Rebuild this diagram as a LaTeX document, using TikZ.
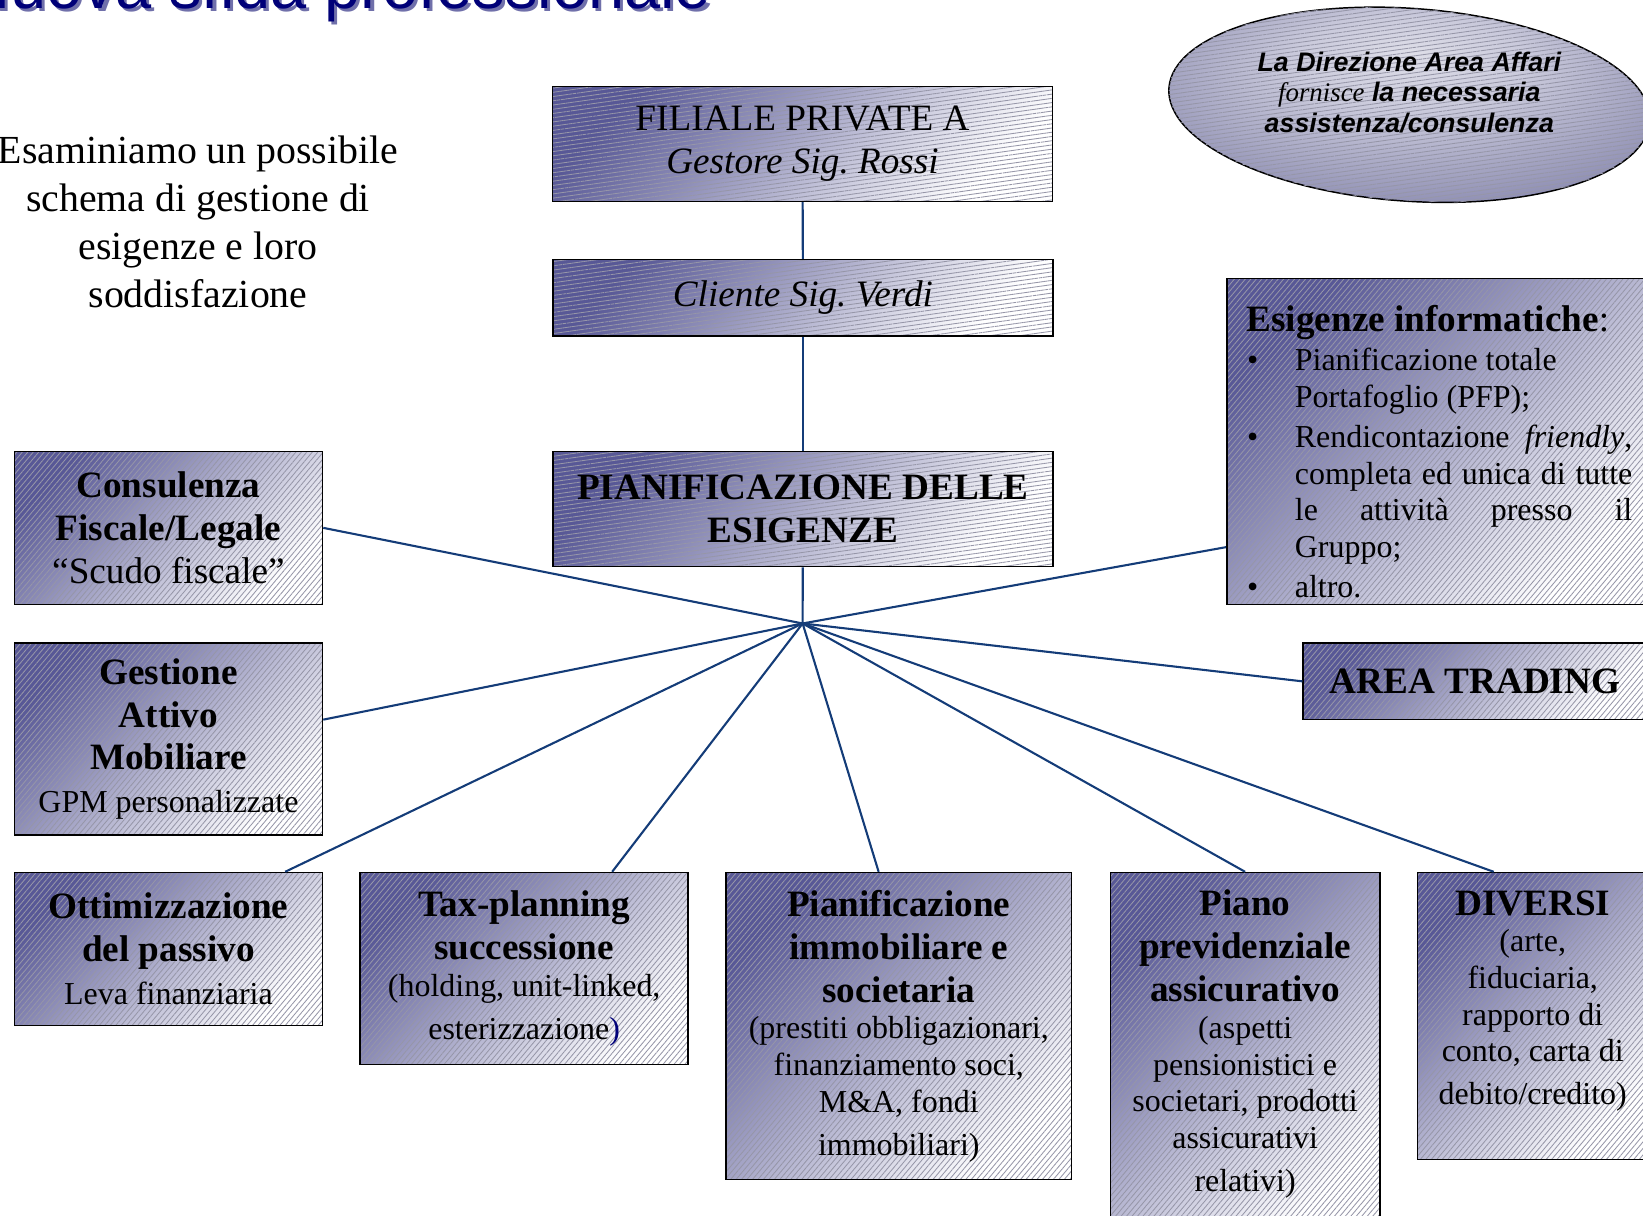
\documentclass[tikz,border=0pt]{standalone}
\usepackage{fontspec}
\setmainfont{Liberation Serif}
\newfontfamily\arialfont{Liberation Sans}
\usetikzlibrary{positioning, calc, shapes.geometric, patterns.meta}
\definecolor{boxdark}{RGB}{88,88,150}
\definecolor{hatch}{RGB}{150,150,168}
\definecolor{linkblue}{RGB}{20,60,120}
\definecolor{titblue}{RGB}{0,0,120}
\definecolor{titshadow}{RGB}{112,112,170}
\newcommand{\bigtxt}{\fontsize{17.75pt}{20.5pt}\selectfont}
\newcommand{\smalltxt}{\fontsize{15.25pt}{17.5pt}\selectfont}
\pgfdeclareradialshading{ellshade}{\pgfpoint{0bp}{12bp}}{rgb(0bp)=(0.87,0.87,0.91); rgb(12bp)=(0.79,0.79,0.86); rgb(28bp)=(0.6,0.6,0.73); rgb(42bp)=(0.43,0.43,0.63); rgb(50bp)=(0.34,0.34,0.56)}
\frenchspacing

\begin{document}
\begin{tikzpicture}[x=0.5pt, y=-0.5pt,
  panel/.style={draw=black, line width=0.75pt, anchor=north west, align=flush center, inner xsep=3pt, inner ysep=0pt, font=\bigtxt,
    preaction={top color=boxdark, bottom color=white, shading angle=45},
    pattern={Lines[angle=50,distance=2pt,line width=0.4pt]}, pattern color=hatch},
  panelh/.style={panel, pattern={Lines[angle=8,distance=2pt,line width=0.4pt]}},
  link/.style={draw=linkblue, line width=1pt}]
\useasboundingbox (0,0) rectangle (1568,1160);

% titolo tagliato in alto
\node[anchor=base west, inner sep=0pt, text=titshadow, font=\arialfont\fontsize{31pt}{36pt}\selectfont] (TS) at (-32,11) {Nuova sfida professionale};
\node[anchor=base west, inner sep=0pt, text=titblue, font=\arialfont\fontsize{31pt}{36pt}\selectfont] (T) at (-35,8) {Nuova sfida professionale};

\node[align=center, anchor=north, inner sep=0pt, font=\fontsize{19pt}{23pt}\selectfont] (INTRO) at (189,129) {Esaminiamo un possibile\\ schema di gestione di\\ esigenze e loro\\ soddisfazione};

% ellisse Direzione Area Affari
\node[ellipse, draw=black, line width=0.7pt, minimum width=230pt, minimum height=92pt, rotate=-4, shading=ellshade,
  postaction={pattern={Lines[angle=8,distance=2pt,line width=0.4pt]}, pattern color=hatch}] (DA) at (1345,100) {};
\node[align=center, font=\arialfont\bfseries\itshape\fontsize{12.8pt}{14.5pt}\selectfont] (DAT) at (1345,88) {La Direzione Area Affari\\ {\normalfont\itshape fornisce} la necessaria\\ assistenza/consulenza};

% colonna centrale
\node[panelh, minimum width=238.5pt, minimum height=55pt, text width=232.5pt] (F) at (527,82) {FILIALE PRIVATE A\\ \textit{Gestore Sig. Rossi}};
\node[panelh, minimum width=238.5pt, minimum height=36.5pt, text width=232.5pt] (C) at (527,247) {\textit{Cliente Sig. Verdi}};
\node[panelh, minimum width=238.5pt, minimum height=55pt, text width=232.5pt, font=\bigtxt\bfseries] (P) at (527,430) {PIANIFICAZIONE DELLE\\ ESIGENZE};
\coordinate (H) at (766,595);

% a sinistra
\node[panel, minimum width=147pt, minimum height=73pt, text width=141pt] (CF) at (13,430) {\textbf{Consulenza\\ Fiscale/Legale}\\ “Scudo fiscale”};
\node[panel, minimum width=147pt, minimum height=91.5pt, text width=141pt] (GA) at (13,613) {\textbf{Gestione\\ Attivo\\ Mobiliare}\par\smalltxt GPM personalizzate};

% in basso
\node[panel, minimum width=147pt, minimum height=73pt, text width=141pt] (OP) at (13,832) {\textbf{Ottimizzazione\\ del passivo}\par\smalltxt Leva finanziaria};
\node[panel, minimum width=156.5pt, minimum height=91.5pt, text width=150.5pt] (TP) at (343,832) {\textbf{Tax-planning\\ successione}\par\smalltxt (holding, unit-linked,\\ esterizzazione\textcolor{titblue}{)}};
\node[panel, minimum width=165pt, minimum height=146.5pt, text width=159pt] (PI) at (692,832) {\textbf{Pianificazione\\ immobiliare e\\ societaria}\par\smalltxt (prestiti obbligazionari,\\ finanziamento soci,\\ M\&A, fondi\\ immobiliari)};
\node[panel, minimum width=128.5pt, minimum height=170pt, text width=122.5pt] (PP) at (1059,832) {\textbf{Piano\\ previdenziale\\ assicurativo}\par\smalltxt (aspetti\\ pensionistici e\\ societari, prodotti\\ assicurativi\\ relativi)\rule[-9.5pt]{0pt}{0pt}};
\node[panel, minimum width=110pt, minimum height=137pt, text width=104pt] (DV) at (1352,832) {\textbf{DIVERSI}\par\smalltxt (arte,\\ fiduciaria,\\ rapporto di\\ conto, carta di\\ debito/credito)\rule[-17.5pt]{0pt}{0pt}};

% a destra
\node[panel, minimum width=164pt, minimum height=36.5pt, text width=158pt] (AT) at (1243,613) {\textbf{AREA TRADING}};
\node[panel, align=justify, inner xsep=9.5pt, text width=184pt, minimum height=155.5pt] (EI) at (1170,265) {\rule{0pt}{22pt}\textbf{Esigenze informatiche}:\par\smalltxt
\begin{list}{\textbullet}{\setlength{\leftmargin}{23pt}\setlength{\labelsep}{17.5pt}\setlength{\labelwidth}{5.5pt}\setlength{\itemsep}{1.5pt}\setlength{\parsep}{0pt}\setlength{\topsep}{1.5pt}\setlength{\partopsep}{0pt}}
\item Pianificazione totale\\ Portafoglio (PFP);
\item Rendicontazione \textit{friendly},\linebreak completa ed unica di tutte\linebreak le attività presso il\linebreak Gruppo;
\item altro.
\end{list}};

\draw[link] (F) -- (C);
\draw[link] (C) -- (P);
\draw[link] (P) -- (H);
\draw[link] (H) -- (CF.east);
\draw[link] (H) -- ($(GA.north east)!.4!(GA.south east)$);
\draw[link] (H) -- ($(OP.north west)!.877!(OP.north east)$);
\draw[link] (H) -- ($(TP.north west)!.767!(TP.north east)$);
\draw[link] (H) -- ($(PI.north west)!.442!(PI.north east)$);
\draw[link] (H) -- (PP.north);
\draw[link] (H) -- ($(DV.north west)!.332!(DV.north east)$);
\draw[link] (H) -- (AT.west);
\draw[link] (H) -- ($(EI.north west)!.823!(EI.south west)$);
\end{tikzpicture}
\end{document}
